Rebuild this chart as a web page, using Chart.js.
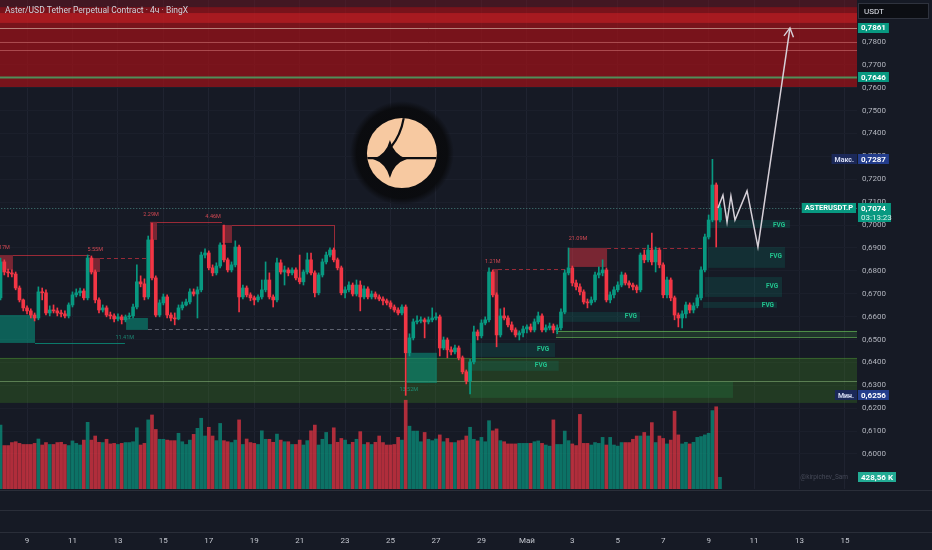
<!DOCTYPE html>
<html>
<head>
<meta charset="utf-8">
<title>ASTERUSDT.P 4h</title>
<script src="https://cdn.jsdelivr.net/npm/chart.js@4.4.1/dist/chart.umd.min.js"></script>
<style>
  html, body { margin: 0; padding: 0; background: #161a25; }
  canvas { display: block; }
</style>
</head>
<body>
<canvas id="chart" width="932" height="550"></canvas>
<script>
// ---- data (4h candles, day numbers counted in April: 31 = 1 May) ----
const title = 'Aster/USD Tether Perpetual Contract · 4ч · BingX';
const firstBarDay = 7 + 20 / 24;   // 7 Apr 20:00
const barHours = 4;
const firstOpen = 0.6682;

const closes = [
  0.6839,0.6795,0.6791,0.6786,0.6725,0.6673,0.6638,0.6625,0.6607,0.6594,
  0.6708,0.6704,0.6616,0.6629,0.6625,0.6616,0.6612,0.6603,0.6651,0.6695,
  0.6704,0.6712,0.6682,0.6856,0.6795,0.6673,0.6629,0.6638,0.6607,0.6603,
  0.6590,0.6599,0.6586,0.6599,0.6603,0.6642,0.6752,0.6743,0.6686,0.6935,
  0.6769,0.6607,0.6660,0.6686,0.6607,0.6594,0.6590,0.6638,0.6651,0.6664,
  0.6708,0.6699,0.6717,0.6869,0.6878,0.6813,0.6791,0.6821,0.6913,0.6848,
  0.6804,0.6826,0.6904,0.6686,0.6725,0.6695,0.6682,0.6673,0.6686,0.6717,
  0.6760,0.6686,0.6673,0.6835,0.6795,0.6804,0.6791,0.6804,0.6769,0.6752,
  0.6795,0.6848,0.6791,0.6704,0.6782,0.6839,0.6869,0.6891,0.6848,0.6813,
  0.6704,0.6717,0.6738,0.6699,0.6738,0.6686,0.6721,0.6686,0.6699,0.6686,
  0.6677,0.6669,0.6660,0.6642,0.6629,0.6616,0.6642,0.6442,0.6507,0.6577,
  0.6581,0.6586,0.6577,0.6586,0.6594,0.6599,0.6463,0.6498,0.6455,0.6446,
  0.6463,0.6420,0.6359,0.6319,0.6402,0.6533,0.6516,0.6572,0.6586,0.6795,
  0.6695,0.6520,0.6603,0.6594,0.6564,0.6542,0.6520,0.6529,0.6546,0.6555,
  0.6542,0.6577,0.6603,0.6542,0.6551,0.6559,0.6542,0.6551,0.6620,0.6791,
  0.6813,0.6747,0.6730,0.6708,0.6664,0.6660,0.6673,0.6782,0.6791,0.6804,
  0.6673,0.6695,0.6717,0.6738,0.6782,0.6747,0.6738,0.6730,0.6717,0.6869,
  0.6848,0.6891,0.6839,0.6891,0.6826,0.6695,0.6760,0.6682,0.6607,0.6594,
  0.6612,0.6651,0.6629,0.6647,0.6682,0.6804,0.6948,0.7022,0.7175,0.7022,0.7074
];
const highs = [
  0.6856,0.6848,0.6808,0.6804,0.6795,0.6734,0.6677,0.6647,0.6634,0.6616,
  0.6730,0.6725,0.6717,0.6647,0.6651,0.6638,0.6629,0.6625,0.6660,0.6708,
  0.6721,0.6725,0.6721,0.6869,0.6865,0.6804,0.6682,0.6651,0.6647,0.6620,
  0.6612,0.6612,0.6607,0.6607,0.6616,0.6655,0.6826,0.6778,0.6765,0.6952,
  0.7009,0.6778,0.6673,0.6699,0.6695,0.6616,0.6616,0.6651,0.6664,0.6677,
  0.6721,0.6721,0.6730,0.6882,0.6896,0.6887,0.6826,0.6835,0.6922,0.7000,
  0.6856,0.6839,0.6931,0.6913,0.6738,0.6734,0.6704,0.6690,0.6695,0.6760,
  0.6839,0.6791,0.6695,0.6856,0.6848,0.6821,0.6813,0.6813,0.6813,0.6869,
  0.6804,0.6878,0.6878,0.6800,0.6791,0.6852,0.6882,0.6900,0.6900,0.6856,
  0.6821,0.6730,0.6752,0.6747,0.6760,0.6756,0.6734,0.6730,0.6712,0.6708,
  0.6695,0.6686,0.6677,0.6669,0.6651,0.6638,0.6651,0.6651,0.6525,0.6590,
  0.6603,0.6599,0.6594,0.6599,0.6638,0.6616,0.6607,0.6511,0.6507,0.6468,
  0.6476,0.6472,0.6428,0.6367,0.6415,0.6559,0.6542,0.6586,0.6599,0.6813,
  0.6804,0.6704,0.6634,0.6638,0.6603,0.6577,0.6551,0.6538,0.6559,0.6564,
  0.6568,0.6590,0.6620,0.6612,0.6564,0.6572,0.6568,0.6564,0.6634,0.6804,
  0.6900,0.6821,0.6760,0.6743,0.6717,0.6677,0.6686,0.6795,0.6817,0.6848,
  0.6813,0.6708,0.6730,0.6752,0.6795,0.6791,0.6756,0.6747,0.6738,0.6878,
  0.6891,0.6913,0.6965,0.6904,0.6900,0.6835,0.6773,0.6769,0.6690,0.6616,
  0.6625,0.6664,0.6660,0.6660,0.6695,0.6817,0.6961,0.7044,0.7287,0.7184,0.7088
];
const lows = [
  0.6673,0.6782,0.6773,0.6773,0.6717,0.6664,0.6625,0.6612,0.6594,0.6581,
  0.6586,0.6673,0.6607,0.6603,0.6616,0.6603,0.6599,0.6594,0.6594,0.6642,
  0.6686,0.6690,0.6673,0.6673,0.6786,0.6660,0.6616,0.6620,0.6599,0.6590,
  0.6577,0.6581,0.6568,0.6577,0.6590,0.6594,0.6634,0.6730,0.6673,0.6677,
  0.6760,0.6599,0.6599,0.6651,0.6594,0.6581,0.6564,0.6586,0.6629,0.6647,
  0.6655,0.6690,0.6594,0.6708,0.6856,0.6804,0.6778,0.6782,0.6813,0.6839,
  0.6795,0.6795,0.6817,0.6620,0.6677,0.6686,0.6669,0.6651,0.6664,0.6677,
  0.6708,0.6677,0.6642,0.6664,0.6786,0.6738,0.6778,0.6782,0.6760,0.6743,
  0.6738,0.6786,0.6782,0.6686,0.6695,0.6773,0.6830,0.6861,0.6839,0.6804,
  0.6695,0.6682,0.6708,0.6690,0.6690,0.6625,0.6677,0.6677,0.6677,0.6677,
  0.6669,0.6651,0.6651,0.6634,0.6620,0.6607,0.6607,0.6256,0.6428,0.6498,
  0.6568,0.6572,0.6507,0.6568,0.6577,0.6586,0.6428,0.6455,0.6420,0.6433,
  0.6437,0.6411,0.6350,0.6306,0.6262,0.6393,0.6498,0.6507,0.6564,0.6577,
  0.6686,0.6468,0.6511,0.6586,0.6555,0.6533,0.6511,0.6498,0.6511,0.6529,
  0.6533,0.6533,0.6568,0.6533,0.6533,0.6542,0.6529,0.6525,0.6542,0.6612,
  0.6782,0.6734,0.6717,0.6695,0.6655,0.6638,0.6651,0.6664,0.6769,0.6778,
  0.6664,0.6660,0.6682,0.6708,0.6730,0.6738,0.6725,0.6717,0.6704,0.6708,
  0.6835,0.6839,0.6826,0.6795,0.6813,0.6682,0.6682,0.6669,0.6586,0.6555,
  0.6551,0.6594,0.6616,0.6616,0.6638,0.6673,0.6795,0.6939,0.7014,0.6904,0.7014
];
// volume, thousands
const volumes = [
  2340,1590,1590,1700,1730,1670,1630,1630,1630,1670,
  1830,1610,1700,1630,1630,1700,1710,1630,1590,1760,
  1670,1610,1790,2440,1790,1940,1710,1700,1820,1650,
  1670,1630,1670,1700,1700,1730,2240,1610,1670,2530,
  2710,2180,1820,1820,1790,1770,1770,2040,1730,1630,
  1790,2000,2220,2590,1940,2260,1940,1770,2400,1770,
  1730,1700,1790,2530,1630,1830,1700,1670,1630,2130,
  1820,1820,1710,2010,1790,1730,1730,1630,1630,1790,
  1610,1770,2130,2340,1610,1820,2070,1630,2240,1710,
  1850,1790,1630,1710,1820,2100,1630,1700,1630,1710,
  1940,1700,1610,1610,1630,1890,1790,3250,2300,2120,
  2120,1730,2070,1820,1770,1830,1980,1730,1850,1700,
  1700,1770,1790,1940,2260,1820,1760,1890,1730,2500,
  2130,2200,1770,1730,1650,1650,1650,1670,1670,1670,
  1670,1730,1760,1670,1610,1570,2530,1630,1630,2120,
  1770,1650,1590,2730,1670,1670,1610,1700,1670,1890,
  1610,1890,1610,1570,1700,1700,1700,1820,1940,1940,
  2070,1940,2430,1700,1940,1850,1650,1790,2850,1980,
  1650,1710,1650,1710,1890,1920,1980,2040,2870,3010,428.56
];

// axes
const viewDays = [7.81, 45.53];
const priceRange = [0.5847, 0.7983];
const volMax = 17900;
const dayTicks = [9, 11, 13, 15, 17, 19, 21, 23, 25, 27, 29, 31, 33, 35, 37, 39, 41, 43, 45];
const dayLabels = ['9', '11', '13', '15', '17', '19', '21', '23', '25', '27', '29', 'Май', '3', '5', '7', '9', '11', '13', '15'];
const priceTicks = [0.60, 0.61, 0.62, 0.63, 0.64, 0.65, 0.66, 0.67, 0.68, 0.69, 0.70,
                    0.71, 0.72, 0.73, 0.74, 0.75, 0.76, 0.77, 0.78];

// drawings on the chart (days, prices)
const supplyCap = [0.7983, 0.7952];
const supplyZone = [0.7952, 0.7603];
const supplyCore = [0.7926, 0.7883];
const supplyLines = [0.7800, 0.7765];
const keyLevels = [0.7861, 0.7646];
const demandZone = [0.6420, 0.6223];
const demandMid = 0.6319;
const demandInner = [28.50, 40.07, 0.6315, 0.6245];
const demandBand = [32.28, 0.6538, 0.6511];

const bearBoxes = [
  [7.50, 8.38, 0.6869, 0.6804],
  [11.81, 12.21, 0.6856, 0.6795],
  [14.41, 14.72, 0.7014, 0.6935],
  [17.58, 18.02, 0.7000, 0.6922],
  [29.51, 29.73, 0.6808, 0.6695],
  [32.85, 34.53, 0.6900, 0.6817]
];
const bearLabels = ['2.17M', '5.55M', '2.29M', '4.46M', '1.21M', '21.09M'];
const bearLabelAt = [[7.90, 0.6900], [12.00, 0.6891], [14.46, 0.7044], [17.19, 0.7035], [29.50, 0.6839], [33.25, 0.6939]];
const bearLines = [      // [from, to, price, dashed]
  [8.38, 11.77, 0.6869, 0],
  [12.21, 14.28, 0.6856, 1],
  [14.72, 17.58, 0.7014, 0],
  [18.02, 22.51, 0.7000, 0],
  [29.73, 32.81, 0.6808, 1],
  [34.53, 38.84, 0.6900, 1]
];
const bearDrop = [22.51, 0.7000, 0.6891];

const bullBoxes = [
  [7.50, 9.35, 0.6607, 0.6485],
  [13.36, 14.32, 0.6594, 0.6542],
  [25.72, 27.04, 0.6442, 0.6310]
];
const bullLabels = ['11.41M', '13.52M'];
const bullLabelAt = [[13.30, 0.6507], [25.80, 0.6280]];
const bullLines = [
  [9.35, 13.31, 0.6485, 0],
  [14.32, 25.42, 0.6546, 1]
];

const fvgBoxes = [
  [28.50, 32.24, 0.6485, 0.6424],
  [28.50, 32.40, 0.6407, 0.6363],
  [32.59, 35.98, 0.6620, 0.6577],
  [38.97, 42.58, 0.7022, 0.6987],
  [38.97, 42.36, 0.6904, 0.6813],
  [38.84, 42.23, 0.6773, 0.6686],
  [38.75, 42.01, 0.6664, 0.6638]
];
const fvgLabelAt = [[31.71, 0.6455], [31.62, 0.6385], [35.58, 0.6599], [42.10, 0.7000],
                    [41.96, 0.6861], [41.79, 0.6730], [41.61, 0.6651]];

const arrowDays = [39.41, 39.63, 39.81, 39.98, 40.16, 40.69, 41.17, 42.58];
const arrowPrices = [0.7074, 0.7131, 0.7013, 0.7127, 0.7022, 0.7149, 0.6904, 0.7861];

const countdown = '03:13:23';
const symbol = 'ASTERUSDT.P';
const watermark = '@kirpichev_Sam';

// ---- build ----
const upColor = '#089981';
const downColor = '#f23645';
const bg = '#161a25';

const barDays = closes.map((c, i) => firstBarDay + i * barHours / 24);
const opens = closes.map((c, i) => (i === 0 ? firstOpen : closes[i - 1]));
const isUp = closes.map((c, i) => c >= opens[i]);
const lastClose = closes[closes.length - 1];
const lastVol = volumes[volumes.length - 1];
const fmt = p => p.toFixed(4).replace('.', ',');

function drawLogo(ctx, cx, cy) {
  const halo = ctx.createRadialGradient(cx, cy, 30, cx, cy, 52);
  halo.addColorStop(0, 'rgba(10,11,14,1)');
  halo.addColorStop(0.7, 'rgba(10,11,14,0.95)');
  halo.addColorStop(1, 'rgba(10,11,14,0)');
  ctx.fillStyle = halo;
  ctx.beginPath(); ctx.arc(cx, cy, 52, 0, Math.PI * 2); ctx.fill();
  ctx.save();
  ctx.beginPath(); ctx.arc(cx, cy, 35, 0, Math.PI * 2); ctx.clip();
  ctx.fillStyle = '#f7c9a1';
  ctx.fillRect(cx - 36, cy - 36, 72, 72);
  ctx.strokeStyle = '#0c0d11'; ctx.lineWidth = 2.2;
  ctx.beginPath(); ctx.moveTo(cx - 36, cy + 5); ctx.lineTo(cx + 36, cy + 5); ctx.stroke();
  ctx.beginPath(); ctx.moveTo(cx - 11, cy - 6); ctx.quadraticCurveTo(cx - 1, cy - 18, cx + 2, cy - 36); ctx.stroke();
  const sx = cx - 12, sy = cy + 6, rx = 17, ry = 19, k = 0.22;
  ctx.fillStyle = '#0c0d11';
  ctx.beginPath();
  ctx.moveTo(sx, sy - ry);
  ctx.quadraticCurveTo(sx + rx * k, sy - ry * k, sx + rx, sy);
  ctx.quadraticCurveTo(sx + rx * k, sy + ry * k, sx, sy + ry);
  ctx.quadraticCurveTo(sx - rx * k, sy + ry * k, sx - rx, sy);
  ctx.quadraticCurveTo(sx - rx * k, sy - ry * k, sx, sy - ry);
  ctx.fill();
  ctx.restore();
}

function tag(ctx, x, yc, text, fill, color, font, h) {
  ctx.font = font;
  const w = ctx.measureText(text).width + 6;
  ctx.fillStyle = fill;
  ctx.fillRect(x, Math.round(yc - h / 2), w, h);
  ctx.fillStyle = color;
  ctx.textAlign = 'left'; ctx.textBaseline = 'middle';
  ctx.fillText(text, x + 3, yc + 0.5);
  return w;
}

const tvPlugin = {
  id: 'tv',
  beforeDraw(chart) {
    const c = chart.ctx;
    c.save(); c.fillStyle = bg; c.fillRect(0, 0, chart.width, chart.height); c.restore();
  },
  beforeDatasetsDraw(chart) {
    const { ctx, chartArea: a, scales: { x, y } } = chart;
    const X = v => x.getPixelForValue(v), Y = v => y.getPixelForValue(v);
    const box = (t0, t1, p0, p1, fill) => {
      const top = Y(Math.max(p0, p1)), bot = Y(Math.min(p0, p1));
      ctx.fillStyle = fill;
      ctx.fillRect(X(t0), top, X(t1) - X(t0), bot - top);
    };
    const hline = (t0, t1, p, color, w, dash) => {
      ctx.strokeStyle = color; ctx.lineWidth = w; ctx.setLineDash(dash || []);
      const yy = Math.round(Y(p)) + 0.5;
      ctx.beginPath(); ctx.moveTo(X(t0), yy); ctx.lineTo(X(t1), yy); ctx.stroke();
      ctx.setLineDash([]);
    };
    const L = viewDays[0] - 1, R = viewDays[1] + 1;
    ctx.save();
    ctx.beginPath(); ctx.rect(a.left, a.top, a.right - a.left, a.bottom - a.top); ctx.clip();

    // supply block at the top
    box(L, R, supplyCap[0], supplyCap[1], 'rgba(120,20,32,0.45)');
    box(L, R, supplyZone[0], supplyZone[1], 'rgba(155,18,24,0.74)');
    box(L, R, supplyCore[0], supplyCore[1], 'rgba(225,35,40,0.45)');
    supplyLines.forEach(p => hline(L, R, p, 'rgba(220,130,130,0.5)', 1));
    hline(L, R, keyLevels[0], 'rgba(205,165,155,0.75)', 1);
    hline(L, R, keyLevels[1], '#4f8f5a', 2);

    // demand block at the bottom
    box(L, R, demandZone[0], demandZone[1], 'rgba(70,150,30,0.26)');
    hline(L, R, demandZone[0], 'rgba(90,170,60,0.35)', 1);
    hline(L, R, demandMid, 'rgba(160,210,140,0.45)', 1);
    box(demandInner[0], demandInner[1], demandInner[2], demandInner[3], 'rgba(40,170,90,0.18)');
    box(demandBand[0], R, demandBand[1], demandBand[2], 'rgba(76,175,80,0.18)');
    hline(demandBand[0], R, demandBand[1], 'rgba(110,200,90,0.6)', 1);
    hline(demandBand[0], R, demandBand[2], 'rgba(110,200,90,0.6)', 1);

    fvgBoxes.forEach(b => box(b[0], b[1], b[2], b[3], 'rgba(8,153,129,0.17)'));

    bullBoxes.forEach(b => box(b[0], b[1], b[2], b[3], 'rgba(8,153,129,0.55)'));
    bullLines.forEach(l => hline(l[0], l[1], l[2], l[3] ? 'rgba(140,145,160,0.6)' : 'rgba(8,153,129,0.75)', 1, l[3] ? [4, 3] : []));
    bearBoxes.forEach(b => box(b[0], b[1], b[2], b[3], 'rgba(242,54,69,0.45)'));
    bearLines.forEach(l => hline(l[0], l[1], l[2], 'rgba(242,54,69,0.6)', 1, l[3] ? [4, 3] : []));
    ctx.strokeStyle = 'rgba(242,54,69,0.6)'; ctx.lineWidth = 1;
    ctx.beginPath();
    ctx.moveTo(Math.round(X(bearDrop[0])) + 0.5, Y(bearDrop[1]));
    ctx.lineTo(Math.round(X(bearDrop[0])) + 0.5, Y(bearDrop[2]));
    ctx.stroke();

    // last price line
    hline(L, R, lastClose, 'rgba(90,170,160,0.7)', 1, [1, 2]);

    drawLogo(ctx, a.left + 0.469 * (a.right - a.left), a.top + 0.313 * (a.bottom - a.top));

    // small labels
    ctx.textAlign = 'center'; ctx.textBaseline = 'middle';
    ctx.font = '5.5px Roboto';
    ctx.fillStyle = 'rgba(242,80,90,0.85)';
    bearLabels.forEach((s, i) => ctx.fillText(s, X(bearLabelAt[i][0]), Y(bearLabelAt[i][1])));
    ctx.fillStyle = 'rgba(30,160,135,0.8)';
    bullLabels.forEach((s, i) => ctx.fillText(s, X(bullLabelAt[i][0]), Y(bullLabelAt[i][1])));
    ctx.font = 'bold 6.5px Roboto';
    ctx.fillStyle = '#22c38e';
    fvgLabelAt.forEach(p => ctx.fillText('FVG', X(p[0]), Y(p[1])));
    ctx.restore();
  },
  afterDatasetsDraw(chart) {
    const { ctx, scales: { x, y } } = chart;
    const n = arrowDays.length;
    const x1 = x.getPixelForValue(arrowDays[n - 1]), y1 = y.getPixelForValue(arrowPrices[n - 1]);
    const x0 = x.getPixelForValue(arrowDays[n - 2]), y0 = y.getPixelForValue(arrowPrices[n - 2]);
    const ang = Math.atan2(y1 - y0, x1 - x0);
    ctx.save();
    ctx.strokeStyle = '#d6d0d8'; ctx.lineWidth = 1.4;
    ctx.beginPath();
    ctx.moveTo(x1 - 10 * Math.cos(ang - 0.5), y1 - 10 * Math.sin(ang - 0.5));
    ctx.lineTo(x1, y1);
    ctx.lineTo(x1 - 10 * Math.cos(ang + 0.5), y1 - 10 * Math.sin(ang + 0.5));
    ctx.stroke();
    ctx.restore();
  },
  afterDraw(chart) {
    const { ctx, chartArea: a, scales: { y, yv } } = chart;
    ctx.save();
    // pane separators
    ctx.strokeStyle = '#2a2e39'; ctx.lineWidth = 1;
    [1, 21, 43].forEach(d => {
      const yy = a.bottom + d + 0.5;
      ctx.beginPath(); ctx.moveTo(0, yy); ctx.lineTo(chart.width, yy); ctx.stroke();
    });
    // title
    ctx.font = '8.5px Roboto'; ctx.fillStyle = '#d1d4dc';
    ctx.textAlign = 'left'; ctx.textBaseline = 'middle';
    ctx.fillText(title, 5, 11, 184);
    // currency box
    ctx.fillStyle = '#0c0e13'; ctx.strokeStyle = '#2f333e';
    ctx.fillRect(a.right + 1.5, 3.5, 70, 15); ctx.strokeRect(a.right + 1.5, 3.5, 70, 15);
    ctx.fillStyle = '#e0e3eb'; ctx.font = '8px Roboto';
    ctx.fillText('USDT', a.right + 7, 11.5);

    const ax = a.right + 1;
    const bold = 'bold 8px Roboto';
    keyLevels.forEach(p => tag(ctx, ax, y.getPixelForValue(p), fmt(p), '#089981', '#ffffff', bold, 10));

    const hi = Math.max(...highs), lo = Math.min(...lows);
    tag(ctx, ax, y.getPixelForValue(hi), fmt(hi), '#233d8c', '#ffffff', bold, 10);
    tag(ctx, ax, y.getPixelForValue(lo), fmt(lo), '#233d8c', '#ffffff', bold, 10);
    ctx.font = 'bold 7px Roboto';
    ['Макс.', 'Мин.'].forEach((s, i) => {
      const yc = y.getPixelForValue(i ? lo : hi);
      const w = ctx.measureText(s).width + 6;
      ctx.fillStyle = '#1b2858';
      ctx.fillRect(a.right - w, Math.round(yc - 5), w, 10);
      ctx.fillStyle = '#d6dcf2';
      ctx.fillText(s, a.right - w + 3, yc + 0.5);
    });

    // last price
    const yl = y.getPixelForValue(lastClose);
    ctx.font = bold;
    const wl = ctx.measureText(fmt(lastClose)).width + 8;
    ctx.fillStyle = '#089981';
    ctx.fillRect(ax, Math.round(yl - 5), wl, 19);
    ctx.fillStyle = '#ffffff'; ctx.fillText(fmt(lastClose), ax + 3, yl + 0.5);
    ctx.font = '8px Roboto'; ctx.fillStyle = '#d8f2ec';
    ctx.fillText(countdown, ax + 3, yl + 9.5);
    ctx.font = 'bold 7.5px Roboto';
    const ws = ctx.measureText(symbol).width + 6;
    ctx.fillStyle = '#089981';
    ctx.fillRect(a.right - ws - 1, Math.round(yl - 5), ws, 10);
    ctx.fillStyle = '#ffffff'; ctx.fillText(symbol, a.right - ws + 2, yl + 0.5);

    // volume
    const yvv = yv.getPixelForValue(lastVol);
    tag(ctx, ax, yvv, lastVol.toFixed(2).replace('.', ',') + ' K', '#22ab94', '#ffffff', bold, 10);
    ctx.font = '6.5px Roboto'; ctx.fillStyle = '#454957'; ctx.textAlign = 'right';
    ctx.fillText(watermark, a.right - 9, yvv);
    ctx.restore();
  }
};

const candleColors = isUp.map(u => (u ? upColor : downColor));
const volColors = isUp.map(u => (u ? 'rgba(8,153,129,0.7)' : 'rgba(242,54,69,0.7)'));

new Chart(document.getElementById('chart'), {
  type: 'bar',
  data: {
    datasets: [
      {
        type: 'line',
        data: arrowDays.map((t, i) => ({ x: t, y: arrowPrices[i] })),
        borderColor: '#d6d0d8',
        borderWidth: 1.5,
        pointRadius: 0,
        tension: 0,
        yAxisID: 'y'
      },
      {
        data: barDays.map((t, i) => ({ x: t, y: [opens[i], closes[i]] })),
        backgroundColor: candleColors,
        barThickness: 3,
        minBarLength: 1,
        grouped: false,
        yAxisID: 'y'
      },
      {
        data: barDays.map((t, i) => ({ x: t, y: [lows[i], highs[i]] })),
        backgroundColor: candleColors,
        barThickness: 1,
        grouped: false,
        yAxisID: 'y'
      },
      {
        data: barDays.map((t, i) => ({ x: t, y: volumes[i] })),
        backgroundColor: volColors,
        barThickness: 3,
        grouped: false,
        yAxisID: 'yv'
      }
    ]
  },
  options: {
    responsive: false,
    animation: false,
    devicePixelRatio: 1,
    layout: { padding: 0 },
    plugins: { legend: { display: false }, tooltip: { enabled: false } },
    scales: {
      x: {
        type: 'linear',
        min: viewDays[0],
        max: viewDays[1],
        offset: false,
        grid: { color: '#1f2330', drawTicks: false, offset: false },
        border: { display: false },
        afterBuildTicks: s => { s.ticks = dayTicks.map(v => ({ value: v })); },
        afterFit: s => { s.height = 61; s.paddingLeft = 0; s.paddingRight = 0; },
        ticks: {
          autoSkip: false, maxRotation: 0, padding: 47,
          color: '#c3c6ce', font: { family: 'Roboto', size: 8 },
          callback: v => dayLabels[dayTicks.indexOf(v)]
        }
      },
      y: {
        type: 'linear',
        position: 'right',
        min: priceRange[0],
        max: priceRange[1],
        grid: { color: '#1b1f2b', drawTicks: false },
        border: { display: false },
        afterBuildTicks: s => { s.ticks = priceTicks.map(v => ({ value: v })); },
        afterFit: s => { s.width = 75; s.paddingTop = 0; s.paddingBottom = 0; },
        ticks: {
          autoSkip: false, padding: 5,
          color: '#b2b5be', font: { family: 'Roboto', size: 8 },
          callback: v => fmt(v)
        }
      },
      yv: { display: false, min: 0, max: volMax }
    }
  },
  plugins: [tvPlugin]
});
</script>
</body>
</html>
